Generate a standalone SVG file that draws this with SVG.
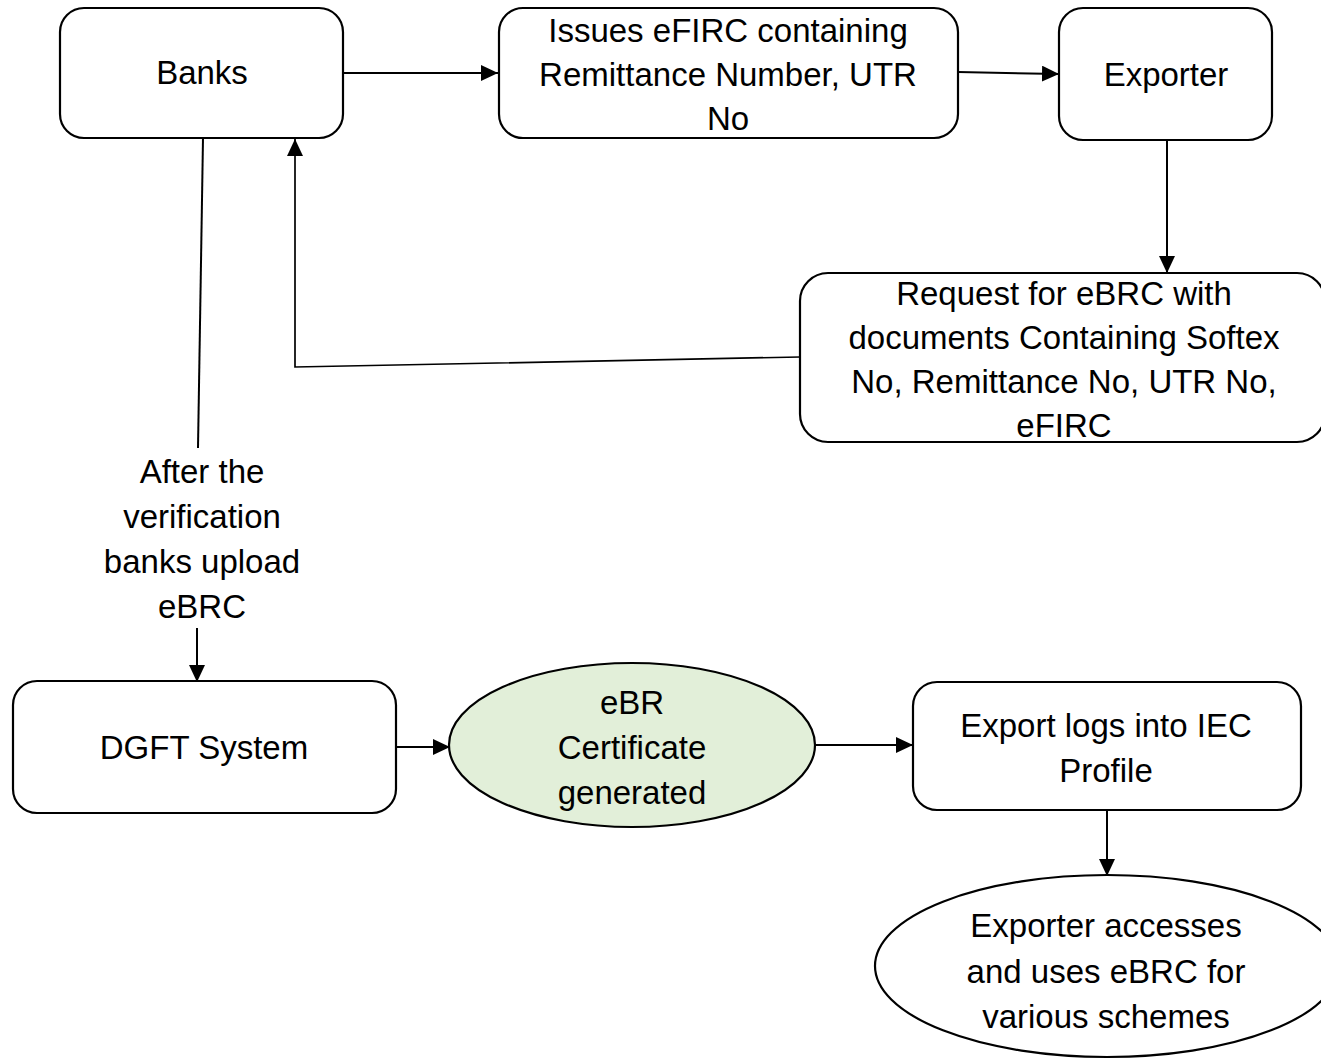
<svg xmlns="http://www.w3.org/2000/svg" width="1321" height="1059" viewBox="0 0 1321 1059">
<style>
.box{fill:#ffffff;stroke:#000000;stroke-width:2.2}
.t{font-family:"Liberation Sans",Arial,sans-serif;font-size:33px;fill:#000000;text-anchor:middle}
.c{fill:none;stroke:#000000;stroke-width:2}
</style>
<defs>
<marker id="ah" markerUnits="userSpaceOnUse" markerWidth="18" markerHeight="16" refX="17" refY="8" orient="auto">
<path d="M0,0 L17,8 L0,16 z" fill="#000000"/>
</marker>
</defs>
<rect width="1321" height="1059" fill="#ffffff"/>
<g id="connectors">
<line class="c" x1="343" y1="73" x2="498" y2="73" marker-end="url(#ah)"/>
<line class="c" x1="958" y1="72" x2="1059" y2="74" marker-end="url(#ah)"/>
<line class="c" x1="1167" y1="140" x2="1167" y2="273" marker-end="url(#ah)"/>
<polyline class="c" style="stroke-width:1.7" points="800,357 295,367 295,139" marker-end="url(#ah)"/>
<line class="c" x1="203" y1="138" x2="198" y2="448"/>
<line class="c" x1="197" y1="628" x2="197" y2="682" marker-end="url(#ah)"/>
<line class="c" x1="396" y1="747" x2="450" y2="747" marker-end="url(#ah)"/>
<line class="c" x1="816" y1="745" x2="913" y2="745" marker-end="url(#ah)"/>
<line class="c" x1="1107" y1="810" x2="1107" y2="876" marker-end="url(#ah)"/>
</g>
<g id="label-after">
<text class="t" x="202" y="483">After the</text>
<text class="t" x="202" y="528">verification</text>
<text class="t" x="202" y="573">banks upload</text>
<text class="t" x="202" y="618">eBRC</text>
</g>
<g id="banks">
<rect class="box" x="60" y="8" width="283" height="130" rx="24"/>
<text class="t" x="202" y="84">Banks</text>
</g>
<g id="issues">
<rect class="box" x="499" y="8" width="459" height="130" rx="24"/>
<text class="t" x="728" y="42">Issues eFIRC containing</text>
<text class="t" x="728" y="86">Remittance Number, UTR</text>
<text class="t" x="728" y="130">No</text>
</g>
<g id="exporter">
<rect class="box" x="1059" y="8" width="213" height="132" rx="24"/>
<text class="t" x="1166" y="86">Exporter</text>
</g>
<g id="request">
<rect class="box" x="800" y="273" width="525" height="169" rx="28"/>
<text class="t" x="1064" y="305">Request for eBRC with</text>
<text class="t" x="1064" y="349">documents Containing Softex</text>
<text class="t" x="1064" y="393">No, Remittance No, UTR No,</text>
<text class="t" x="1064" y="437">eFIRC</text>
</g>
<g id="dgft">
<rect class="box" x="13" y="681" width="383" height="132" rx="24"/>
<text class="t" x="204" y="759">DGFT System</text>
</g>
<g id="certificate">
<ellipse cx="632" cy="745" rx="183" ry="82" fill="#e2efd9" stroke="#000000" stroke-width="2.2"/>
<text class="t" x="632" y="714">eBR</text>
<text class="t" x="632" y="759">Certificate</text>
<text class="t" x="632" y="804">generated</text>
</g>
<g id="export-logs">
<rect class="box" x="913" y="682" width="388" height="128" rx="24"/>
<text class="t" x="1106" y="737">Export logs into IEC</text>
<text class="t" x="1106" y="782">Profile</text>
</g>
<g id="exporter-accesses">
<ellipse cx="1107" cy="966" rx="232" ry="91" fill="#ffffff" stroke="#000000" stroke-width="2.2"/>
<text class="t" x="1106" y="937">Exporter accesses</text>
<text class="t" x="1106" y="983">and uses eBRC for</text>
<text class="t" x="1106" y="1028">various schemes</text>
</g>
</svg>
